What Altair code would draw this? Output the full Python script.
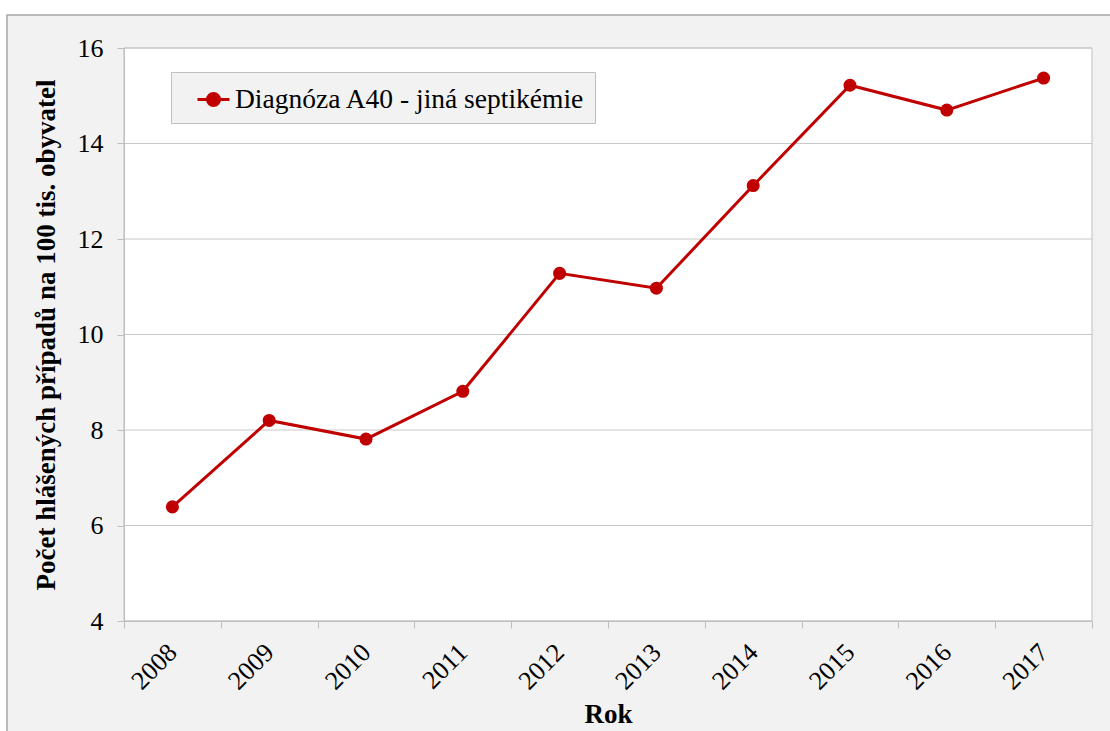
import altair as alt
import pandas as pd

years = ["2008", "2009", "2010", "2011", "2012", "2013", "2014", "2015", "2016", "2017"]
values = [6.39, 8.20, 7.81, 8.81, 11.28, 10.97, 13.12, 15.22, 14.70, 15.37]
series_name = "Diagnóza A40 - jiná septikémie"
y_ticks = [4, 6, 8, 10, 12, 14, 16]

df = pd.DataFrame({"rok": years, "hodnota": values, "serie": [series_name] * len(years)})
grid_df = pd.DataFrame({"hodnota": y_ticks})

W, H = 968, 573
FONT = "Liberation Serif"
RED = "#c00000"

x_enc = alt.X("rok:N", scale=alt.Scale(type="band", paddingInner=0, paddingOuter=0),
              axis=alt.Axis(title="Rok", labelAngle=-45, labelAlign="right", labelBaseline="middle",
                            labelPadding=20, tickBand="extent", tickSize=7, grid=False,
                            titlePadding=8, zindex=2))
y_scale = alt.Scale(domain=[4, 16], nice=False, zero=False)
y_axis = alt.Axis(title="Počet hlášených případů na 100 tis. obyvatel", values=y_ticks,
                  tickSize=7, labelPadding=14, grid=False, titlePadding=17, zindex=2)
y_enc = alt.Y("hodnota:Q", scale=y_scale, axis=y_axis)

legend_symbol = "M-1,0L1,0M-0.38,0A0.38,0.38,0,1,0,0.38,0A0.38,0.38,0,1,0,-0.38,0Z"
legend = alt.Legend(title=None, orient="none", legendX=47, legendY=24,
                    fillColor="#f2f2f2", strokeColor="#bfbfbf", padding=10,
                    labelFont=FONT, labelFontSize=27.5, labelColor="black", labelLimit=600,
                    labelOffset=4, symbolOffset=15,
                    symbolType=legend_symbol, symbolSize=1024, symbolStrokeWidth=3,
                    symbolFillColor=RED, symbolStrokeColor=RED)
color_enc = alt.Color("serie:N", scale=alt.Scale(range=[RED]), legend=legend)

one = alt.Data(values=[{}])

frame = alt.Chart(one).mark_rect(fill="#f2f2f2", stroke="#a6a6a6", strokeWidth=1.5).encode(
    x=alt.value(-117), x2=alt.value(W + 40), y=alt.value(-33), y2=alt.value(H + 140))

plot_bg = alt.Chart(one).mark_rect(fill="white", stroke="#bfbfbf", strokeWidth=1).encode(
    x=alt.value(0), x2=alt.value(W), y=alt.value(0), y2=alt.value(H))

grid = alt.Chart(grid_df).mark_rule(color="#c8c8c8", strokeWidth=1).encode(
    y=alt.Y("hodnota:Q", scale=y_scale, axis=y_axis), x=alt.value(0), x2=alt.value(W))

line = alt.Chart(df).mark_line(strokeWidth=3).encode(x=x_enc, y=y_enc, color=color_enc)
points = alt.Chart(df).mark_circle(size=170, opacity=1).encode(x=x_enc, y=y_enc, color=color_enc)

chart = alt.layer(frame, plot_bg, grid, line, points).properties(
    width=W, height=H,
    autosize=alt.AutoSizeParams(type="none"),
    padding={"left": 124, "top": 48, "right": 18, "bottom": 110},
    background="white",
).configure_view(stroke=None).configure_axis(
    labelFont=FONT, labelFontSize=26, labelColor="black",
    titleFont=FONT, titleFontSize=27, titleFontWeight="bold", titleColor="black",
    domainColor="#bfbfbf", tickColor="#bfbfbf",
)

chart.save("out.html", embed_options={"renderer": "svg", "actions": False})
